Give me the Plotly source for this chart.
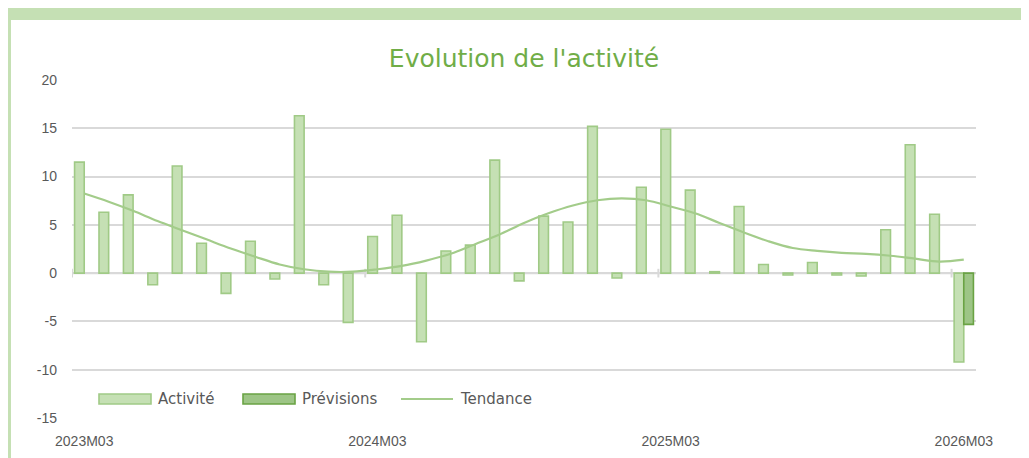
import plotly.graph_objects as go

# ---- data ----
months = []
for k in range(37):
    y = 2023 + (2 + k) // 12
    m = (2 + k) % 12 + 1
    months.append(f"{y}M{m:02d}")

activite = [11.5, 6.3, 8.1, -1.2, 11.1, 3.1, -2.1, 3.3, -0.6, 16.3,
            -1.2, -5.1, 3.8, 6.0, -7.1, 2.3, 2.9, 11.7, -0.8, 5.9,
            5.3, 15.2, -0.5, 8.9, 14.9, 8.6, 0.15, 6.9, 0.9, -0.2,
            1.1, -0.2, -0.3, 4.5, 13.3, 6.1, -9.2]
previsions = [None] * 36 + [-5.3]
tendance = [8.25, 7.4, 6.45, 5.4, 4.45, 3.5, 2.55, 1.7, 0.9, 0.4,
            0.15, 0.15, 0.4, 0.75, 1.3, 2.0, 3.0, 4.0, 5.2, 6.2,
            7.0, 7.55, 7.75, 7.55, 6.9, 6.2, 5.2, 4.2, 3.3, 2.6,
            2.3, 2.1, 2.0, 1.8, 1.5, 1.2, 1.4]
label_every = 12
y_ticks = [20, 15, 10, 5, 0, -5, -10, -15]
y_ticktext = [str(v) for v in y_ticks]

x = list(range(len(months)))
tickvals = x[::label_every]
ticktext = months[::label_every]

C_FILL = "#c5e0b4"
C_EDGE = "#a0ca86"
C_PREV_FILL = "#9dc586"
C_PREV_EDGE = "#6aa344"
C_LINE = "#a3cc8a"
GRID = "#d9d9d9"
TXT = "#595959"
LEG_FONT = "DejaVu Sans"

fig = go.Figure()
fig.add_trace(go.Bar(x=x, y=activite, name="Activité",
                     marker=dict(color=C_FILL, line=dict(color=C_EDGE, width=1.6)),
                     showlegend=False))
fig.add_trace(go.Bar(x=x, y=previsions, name="Prévisions",
                     marker=dict(color=C_PREV_FILL, line=dict(color=C_PREV_EDGE, width=1.6)),
                     showlegend=False))
fig.add_trace(go.Scatter(x=x, y=tendance, name="Tendance", mode="lines",
                         line=dict(color=C_LINE, width=2.2, shape="spline", smoothing=1.0),
                         showlegend=False))

# the page puts the figure at an 8px offset; work in screen pixels and convert
OFF = 8
W, H = 1029 - OFF, 458 - OFF
L, R, T, B = 72 - OFF, 1029 - 976, 80 - OFF, 458 - 418

PW, PH = W - L - R, H - T - B


def px(xs):
    return (xs - OFF - L) / PW


def py(ys):
    return 1 - (ys - OFF - T) / PH


shapes = []
# frame bands
shapes.append(dict(type="rect", xref="paper", yref="paper",
                   x0=px(OFF), x1=px(1029), y0=py(20), y1=py(OFF),
                   fillcolor=C_FILL, line_width=0, layer="below"))
shapes.append(dict(type="rect", xref="paper", yref="paper",
                   x0=px(OFF), x1=px(11), y0=py(458), y1=py(OFF),
                   fillcolor=C_FILL, line_width=0, layer="below"))
# zero axis line + tick marks between categories
shapes.append(dict(type="line", xref="x", yref="y", x0=-0.5, x1=len(x) - 0.5, y0=0, y1=0,
                   line=dict(color=GRID, width=2), layer="below"))
for tv in tickvals:
    shapes.append(dict(type="line", xref="x", yref="y", x0=tv - 0.5, x1=tv - 0.5,
                       y0=-0.45, y1=0.45, line=dict(color=GRID, width=2), layer="below"))

annotations = []
leg = [("Activité", 99, 151, "bar", C_FILL, C_EDGE),
       ("Prévisions", 243, 295, "bar", C_PREV_FILL, C_PREV_EDGE),
       ("Tendance", 401, 453, "line", C_LINE, C_LINE)]
for name, a, b, kind, fc, ec in leg:
    if kind == "bar":
        shapes.append(dict(type="rect", xref="paper", yref="paper",
                           x0=px(a), x1=px(b), y0=py(404), y1=py(394),
                           fillcolor=fc, line=dict(color=ec, width=1.6)))
    else:
        shapes.append(dict(type="line", xref="paper", yref="paper",
                           x0=px(a), x1=px(b), y0=py(399), y1=py(399),
                           line=dict(color=fc, width=2)))
    annotations.append(dict(text=name, xref="paper", yref="paper", x=px(b + 5), y=py(399),
                            xanchor="left", yanchor="middle", showarrow=False,
                            font=dict(family=LEG_FONT, size=15, color=TXT)))

fig.update_layout(
    width=W, height=H,
    margin=dict(l=L, r=R, t=T, b=B, autoexpand=False),
    paper_bgcolor="white", plot_bgcolor="white",
    barmode="group", bargap=0.21, bargroupgap=0,
    title=dict(text="Evolution de l'activité", x=0.5, xref="paper", xanchor="center",
               y=1 - (58 - OFF) / H, yanchor="middle",
               font=dict(family=LEG_FONT, size=25, color="#70ad47")),
    xaxis=dict(range=[-0.5, len(x) - 0.5], tickmode="array", tickvals=tickvals,
               ticktext=ticktext, showgrid=False, zeroline=False, showline=False,
               ticks="", ticklabelstandoff=13,
               tickfont=dict(family="Liberation Sans", size=14, color=TXT)),
    yaxis=dict(range=[-15, 20], tickmode="array", tickvals=y_ticks, ticktext=y_ticktext,
               showgrid=True, gridcolor=GRID, gridwidth=1.5, zeroline=False,
               showline=False, ticks="", ticklabelstandoff=14,
               tickfont=dict(family="Liberation Sans", size=14, color=TXT)),
    shapes=shapes, annotations=annotations,
)

fig.write_html("out.html")
